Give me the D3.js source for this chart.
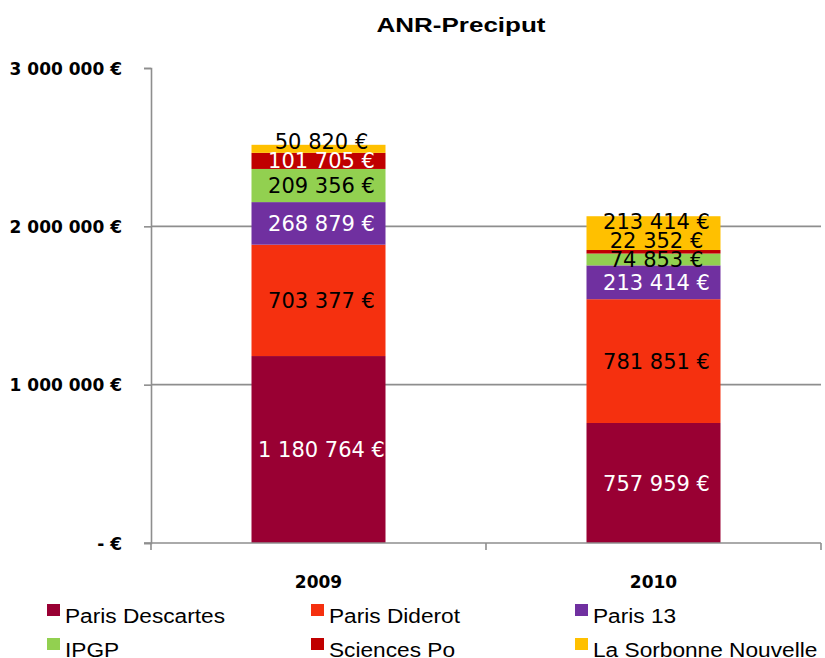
<!DOCTYPE html>
<html>
<head>
<meta charset="utf-8">
<script src="https://cdn.jsdelivr.net/npm/d3@7"></script>
<style>
  body { margin: 0; background: #fff; }
  svg { display: block; }
</style>
</head>
<body>
<div id="chart"></div>
<script>
const years = ['2009', '2010']
const series = ['Paris Descartes', 'Paris Diderot', 'Paris 13', 'IPGP', 'Sciences Po', 'La Sorbonne Nouvelle']
const colors = ['#990033', '#F5300F', '#7030A0', '#92D050', '#C00000', '#FFC000']
// label colour when the label sits inside its own segment
const labelColors = ['#fff', '#000', '#fff', '#000', '#fff', '#000']
const values2009 = [1180764, 703377, 268879, 209356, 101705, 50820]
const values2010 = [757959, 781851, 213414, 74853, 22352, 213414]
const yTicks = [0, 1000000, 2000000, 3000000]

const W = 825, H = 658
const svg = d3.select('#chart').append('svg')
    .attr('width', W)
    .attr('height', H)

const rows = years.map((yr, i) => {
    const vals = i === 0 ? values2009 : values2010
    const r = { year: yr }
    series.forEach((s, j) => r[s] = vals[j])
    return r
})

const x = d3.scaleBand()
    .domain(years)
    .range([151, 821])
    .paddingInner(0.6)
    .paddingOuter(0.3)

const y = d3.scaleLinear()
    .domain([0, 3000000])
    .range([543, 68])

const fr = d3.formatLocale({ decimal: ',', thousands: '\u00a0', grouping: [3], currency: ['', ' €'] })
const fmt = v => v === 0 ? '- €' : fr.format(',')(v) + ' €'
const fmtLabel = v => fr.format(',')(v) + ' €'

// title
svg.append('text')
    .attr('x', 461)
    .attr('y', 32)
    .attr('text-anchor', 'middle')
    .attr('textLength', 169)
    .attr('lengthAdjust', 'spacingAndGlyphs')
    .style('font-family', 'Liberation Sans, Arial')
    .style('font-weight', 'bold')
    .style('font-size', '20px')
    .text('ANR-Preciput')

// gridlines
svg.append('g').selectAll('line')
    .data(yTicks.filter(t => t > 0 && t < 3000000))
    .enter().append('line')
    .attr('x1', 151).attr('x2', 821)
    .attr('y1', d => y(d)).attr('y2', d => y(d))
    .style('stroke', '#8e8e8e')
    .style('stroke-width', 1.6)

// y axis
const yAxis = svg.append('g')
    .attr('transform', 'translate(151,0)')
    .call(d3.axisLeft(y).tickValues(yTicks).tickSize(7).tickFormat(fmt))
yAxis.select('.domain').style('stroke', '#8e8e8e').style('stroke-width', 1.6)
yAxis.selectAll('.tick line').style('stroke', '#8e8e8e').style('stroke-width', 1.6)
yAxis.selectAll('.tick text')
    .attr('x', -29)
    .attr('dy', '0.36em')
    .style('font-family', 'DejaVu Sans')
    .style('font-weight', 'bold')
    .style('font-size', '17px')
    .style('fill', '#000')

// bars
const stack = d3.stack().keys(series)(rows)

const layers = svg.append('g').selectAll('g')
    .data(stack)
    .enter().append('g')
    .style('fill', (d, i) => colors[i])

layers.selectAll('rect')
    .data(d => d)
    .enter().append('rect')
    .attr('x', d => x(d.data.year))
    .attr('width', x.bandwidth())
    .attr('y', d => y(d[1]))
    .attr('height', d => y(d[0]) - y(d[1]))

// x axis (drawn over bar bottoms)
const xAxis = svg.append('g')
    .attr('transform', 'translate(0,543)')
xAxis.append('line')
    .attr('x1', 144).attr('x2', 821)
    .style('stroke', '#8e8e8e').style('stroke-width', 1.6)
xAxis.selectAll('.tk')
    .data([151, x.step() + 151, 2 * x.step() + 151])
    .enter().append('line')
    .attr('x1', d => d).attr('x2', d => d)
    .attr('y1', 0).attr('y2', 7)
    .style('stroke', '#8e8e8e').style('stroke-width', 1.6)
xAxis.selectAll('text')
    .data(years)
    .enter().append('text')
    .attr('x', d => x(d) + x.bandwidth() / 2)
    .attr('y', 45)
    .attr('text-anchor', 'middle')
    .style('font-family', 'DejaVu Sans')
    .style('font-weight', 'bold')
    .style('font-size', '17px')
    .text(d => d)

// data labels, pushed upward when they would collide
const minGap = 19
years.forEach((yr, i) => {
    let prev = Infinity
    const labels = stack.map((layer, j) => {
        const seg = layer[i]
        const centre = y((seg[0] + seg[1]) / 2)
        let cy = Math.min(centre, prev - minGap)
        prev = cy
        const inside = cy >= y(seg[1]) && cy <= y(seg[0])
        return { cy, value: seg[1] - seg[0], color: inside ? labelColors[j] : '#000' }
    })
    svg.append('g').selectAll('text')
        .data(labels)
        .enter().append('text')
        .attr('x', x(yr) + x.bandwidth() / 2 + 3)
        .attr('y', d => d.cy)
        .attr('dy', '0.36em')
        .attr('text-anchor', 'middle')
        .style('font-family', 'DejaVu Sans')
        .style('font-size', '21px')
        .style('fill', d => d.color)
        .text(d => fmtLabel(d.value))
})

// legend
const legX = [47, 311, 575]
const legY = [623, 657]
const legend = svg.append('g').selectAll('g')
    .data(series)
    .enter().append('g')
    .attr('transform', (d, i) => 'translate(' + legX[i % 3] + ',' + legY[Math.floor(i / 3)] + ')')

legend.append('rect')
    .attr('x', 0).attr('y', -19)
    .attr('width', 13).attr('height', 12)
    .style('fill', (d, i) => colors[i])

legend.append('text')
    .attr('transform', 'translate(18,0) scale(1.08,1)')
    .style('font-family', 'Liberation Sans, Arial')
    .style('font-size', '21px')
    .style('fill', '#000')
    .text(d => d)
</script>
</body>
</html>
